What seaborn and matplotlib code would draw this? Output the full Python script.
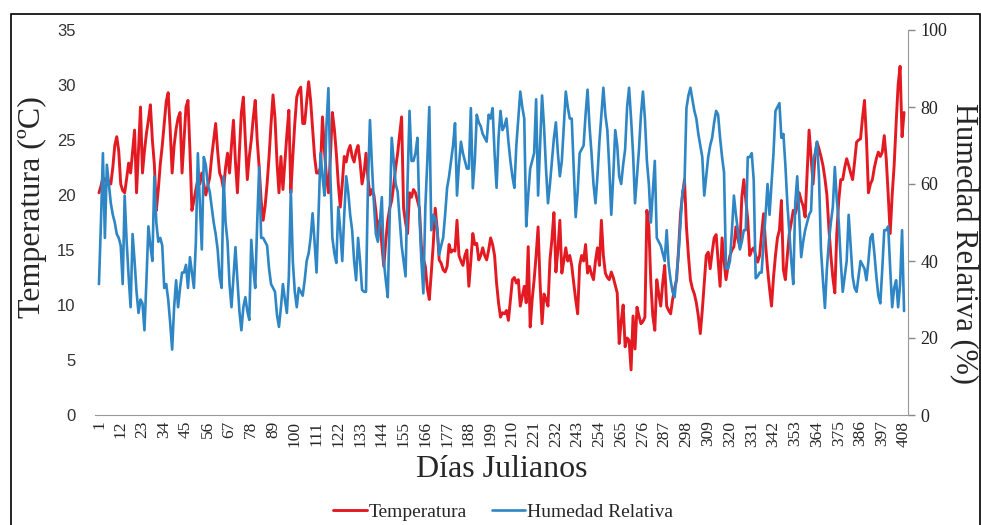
import numpy as np
import pandas as pd
import matplotlib
matplotlib.use('Agg')
import matplotlib.pyplot as plt
from matplotlib.patches import Rectangle
import seaborn as sns

# Daily values (day 1 .. 408)
temperatura = [
    20.2, 20.8, 21.6, 21.3, 21.5, 21.2, 21.0, 22.5, 24.5, 25.3,
    24.0, 21.0, 20.4, 20.2, 21.5, 22.9, 22.0, 24.0, 25.9, 20.2,
    24.0, 28.0, 22.0, 24.0, 25.6, 26.8, 28.2, 25.0, 22.8, 18.6,
    20.5, 22.8, 24.5, 26.5, 28.5, 29.3, 26.0, 22.0, 24.5, 26.0,
    27.0, 27.5, 22.0, 25.0, 28.0, 28.6, 24.0, 18.6, 19.5, 20.5,
    21.4, 21.0, 22.0, 21.0, 20.0, 20.8, 21.6, 23.5, 25.0, 26.5,
    24.0, 22.0, 21.5, 20.5, 22.5, 23.8, 22.0, 24.5, 26.8, 23.0,
    20.2, 24.0, 27.5, 28.9, 25.0, 21.4, 23.5, 25.0, 27.0, 28.6,
    25.0, 22.5, 19.5, 17.7, 19.0, 21.0, 23.5, 26.5, 29.1, 27.0,
    23.0, 20.2, 23.5, 20.5, 23.0, 25.5, 27.7, 20.2, 23.5, 26.5,
    28.9, 29.5, 29.8, 26.5, 26.5, 28.5, 30.3, 28.6, 26.0, 23.5,
    22.0, 22.0, 22.5, 27.1, 24.0, 21.7, 20.2, 23.5, 27.5, 26.0,
    23.8, 21.0, 18.9, 21.0, 23.5, 23.0, 24.0, 24.5, 23.5, 23.0,
    24.0, 24.5, 23.0, 21.0, 22.0, 23.8, 21.5, 20.0, 20.5, 20.0,
    18.5, 16.5, 17.7, 15.5, 13.5, 15.8, 17.7, 18.8, 19.5, 20.9,
    22.5, 23.8, 25.5, 27.1, 18.8, 17.5, 16.5, 20.2, 19.8, 20.5,
    20.2, 19.5, 18.8, 15.3, 14.2, 13.5, 11.5, 10.5, 12.9, 15.5,
    18.8, 16.9, 14.1, 13.8, 13.2, 13.0, 13.5, 15.5, 14.8, 15.0,
    14.9, 17.7, 14.5, 14.0, 13.6, 14.5, 15.0, 11.7, 14.0, 16.5,
    15.5, 15.6, 14.1, 14.5, 15.2, 14.5, 14.1, 15.0, 16.1, 15.5,
    14.5, 12.0, 10.2, 8.9, 9.3, 9.2, 9.5, 8.6, 10.5, 12.3,
    12.5, 12.0, 12.3, 9.9, 10.8, 11.7, 10.2, 15.3, 8.0, 10.5,
    12.3, 14.5, 17.1, 12.0, 8.3, 11.0, 10.5, 9.9, 14.1, 16.0,
    18.4, 13.0, 15.0, 17.7, 12.9, 14.0, 15.2, 14.0, 14.5, 13.6,
    12.0, 10.5, 9.2, 13.6, 14.5, 14.0, 15.5, 12.9, 13.5, 12.8,
    12.3, 14.0, 15.2, 13.6, 17.7, 14.5, 12.9, 12.5, 12.3, 13.0,
    12.5, 11.8, 11.1, 6.5, 8.5, 10.0, 6.2, 7.0, 6.8, 4.1,
    9.0, 6.0, 9.8, 9.0, 8.3, 8.5, 8.9, 18.6, 17.1, 12.0,
    9.0, 7.7, 12.3, 11.0, 9.9, 12.0, 13.6, 9.9, 9.5, 9.2,
    10.5, 11.5, 12.3, 15.0, 18.3, 20.0, 21.4, 17.1, 14.5, 12.3,
    11.5, 11.0, 10.2, 9.0, 7.4, 9.5, 12.0, 14.5, 14.8, 13.3,
    14.8, 16.1, 16.4, 14.0, 11.7, 16.1, 14.0, 12.3, 13.5, 14.5,
    15.0, 15.3, 17.1, 16.0, 15.3, 19.8, 21.4, 19.5, 17.7, 14.5,
    15.0, 15.2, 14.5, 13.9, 14.5, 16.5, 18.3, 15.5, 13.3, 11.5,
    9.9, 12.5, 14.5, 16.1, 16.8, 19.5, 13.2, 12.3, 14.5, 16.5,
    17.5, 18.6, 18.3, 19.0, 20.2, 19.5, 19.0, 18.0, 22.0, 25.9,
    23.5, 21.0, 23.5, 24.8, 24.2, 23.5, 22.7, 21.5, 20.0, 17.0,
    14.5, 12.5, 11.1, 16.5, 19.5, 21.4, 21.4, 22.5, 23.3, 22.7,
    22.0, 21.4, 23.0, 24.8, 25.0, 25.1, 27.0, 28.6, 25.1, 20.2,
    21.0, 21.4, 22.5, 23.3, 23.9, 23.5, 23.9, 25.4, 23.3, 20.0,
    16.5, 20.0, 22.7, 26.5, 30.0, 31.7, 25.3, 27.5,
]

humedad = [
    34, 50, 68, 46, 65, 60, 55, 52, 50, 47,
    46, 44, 34, 57, 45, 36, 28, 47, 40, 32,
    26.5, 30, 29, 22, 35, 49, 44, 40, 62, 50,
    45, 46, 44, 33, 34, 30, 24, 17, 28, 35,
    28, 33, 37, 37, 39, 33, 41, 37, 33, 45,
    68, 55, 43, 67, 65, 60, 58, 54, 50, 47,
    43, 36, 33, 62, 50, 45, 34, 28, 36, 43.6,
    35, 27, 22, 28, 30.6, 27, 24.7, 45.5, 38, 33,
    50, 64.4, 46, 46, 45, 44, 38, 34, 33, 32,
    26, 22.9, 28, 34, 30, 26.5, 36, 58.4, 40, 32,
    28, 33, 32, 31, 35, 40, 42, 46, 52.4, 45,
    37, 52, 68, 62, 57, 75, 84.9, 62, 46, 42,
    39.5, 54, 48, 40, 52, 62, 58, 52, 48, 40,
    35, 46, 40, 32.5, 32, 32, 60, 76.6, 65, 55,
    47, 45, 50, 56.6, 40, 35, 30.6, 52, 72, 66,
    60, 58, 51, 44, 40, 36, 60, 79, 66, 66,
    68, 72, 52, 40, 31.6, 54, 66, 80, 48, 52,
    51, 48, 41.6, 44, 46, 52, 59, 62, 66, 70,
    75.8, 57, 65, 71, 68, 66, 64, 64, 79.7, 58.9,
    66, 78, 76, 75, 73, 72, 71, 78, 77, 79.7,
    68, 59, 72, 79, 74, 75, 77, 71, 66, 62,
    59, 70, 77, 84, 80, 77, 49, 57, 64, 66,
    68, 82, 57, 70, 83, 75, 64, 55, 60, 66,
    72, 76, 68, 62, 66, 75, 84, 80, 77, 77,
    64, 51.4, 58, 68, 69, 70, 78, 84.5, 75, 68,
    60, 55, 62, 71, 78, 85, 78, 74, 64, 52,
    62, 74, 70, 62, 60, 65, 69, 80, 85, 77,
    68, 55, 62, 69, 78, 84, 77, 66, 60, 50,
    58, 66, 46, 45, 44, 42, 40, 48, 39, 35,
    32, 30.6, 36, 42, 50, 58, 60, 79.7, 83, 85,
    82, 79, 77, 73, 70, 67, 57, 62, 67, 70,
    72, 76, 79, 78, 72, 67, 63, 38, 38, 40,
    48, 57, 52, 48, 43, 45, 48, 48, 67, 67,
    68, 61, 35.5, 36, 37, 37, 45, 52, 60, 52,
    60, 68, 79, 80, 81, 72, 73, 65, 55, 47.6,
    40, 34, 55, 62, 52, 41, 45, 48, 50, 52,
    53, 66, 68, 71, 62, 43, 35, 27.8, 38, 45,
    50, 54, 64.4, 56, 50, 40, 32, 36, 40, 52,
    44, 36, 33, 32, 36, 40, 39, 38, 35, 40,
    46, 47, 42, 36, 31, 29, 38, 48, 48, 49,
    38, 28, 33, 35, 28, 34, 48, 27,
]

dias = list(range(1, len(temperatura) + 1))
ticks_x = list(range(1, 409, 11))

df = pd.DataFrame({'Dia': dias, 'Temperatura': temperatura, 'Humedad': humedad})

sns.set_style('white')
serif = 'Liberation Serif'
sans = 'Liberation Sans'
plt.rcParams['font.family'] = [serif, 'DejaVu Serif']

red = '#E41A22'
blue = '#2E86C4'

fig = plt.figure(figsize=(9.81, 5.25), dpi=100)
ax = fig.add_axes([95 / 981, 1 - 415 / 525, (908 - 95) / 981, (415 - 30) / 525])
ax2 = ax.twinx()

sns.lineplot(data=df, x='Dia', y='Temperatura', ax=ax, color=red, linewidth=2.1, label='Temperatura', legend=False)
sns.lineplot(data=df, x='Dia', y='Humedad', ax=ax2, color=blue, linewidth=1.9, label='Humedad Relativa', legend=False)

ax.set_xlim(-1, 410)
ax.set_ylim(0, 35)
ax2.set_ylim(0, 100)
ax.set_yticks(range(0, 36, 5))
ax2.set_yticks(range(0, 101, 20))
ax.set_xticks(ticks_x)
ax.set_xticklabels([str(t) for t in ticks_x], rotation=90, fontsize=12.5, family=serif)

for lab in ax.get_yticklabels():
    lab.set_family(sans)
    lab.set_fontsize(12)
    lab.set_color('#333333')
for lab in ax2.get_yticklabels():
    lab.set_family(serif)
    lab.set_fontsize(13)
    lab.set_color('#222222')

ax.tick_params(axis='y', length=0, pad=14)
ax.tick_params(axis='x', length=0, pad=4)
ax2.tick_params(axis='y', length=5, width=1, color='#888888', pad=4)

for a in (ax, ax2):
    for s in ('top', 'left', 'right'):
        a.spines[s].set_visible(False)
    a.spines['bottom'].set_color('#999999')
ax2.spines['right'].set_visible(True)
ax2.spines['right'].set_color('#999999')
ax2.spines['bottom'].set_visible(False)

ax.set_xlabel('Días Julianos', fontsize=23, labelpad=6)
ax.set_ylabel('Temperatura (ºC)', fontsize=23)
ax.yaxis.set_label_coords(-0.059, 0.54)
ax2.set_ylabel('Humedad Relativa (%)', fontsize=22, rotation=-90, va='bottom')
ax2.yaxis.set_label_coords(1.050, 0.445)

h1, l1 = ax.get_legend_handles_labels()
h2, l2 = ax2.get_legend_handles_labels()
fig.legend(h1 + h2, l1 + l2, loc='center', bbox_to_anchor=(0.513, 1 - 512 / 525), ncol=2,
           frameon=False, fontsize=14, handlelength=1.7, handletextpad=0.1, columnspacing=1.3)

# black frame around the chart
fig.add_artist(Rectangle((11 / 981, -0.05), (980 - 11) / 981, 1.05 - 14 / 525,
                         transform=fig.transFigure, fill=False, edgecolor='black', linewidth=1.2))

fig.savefig('out.png', dpi=100)
